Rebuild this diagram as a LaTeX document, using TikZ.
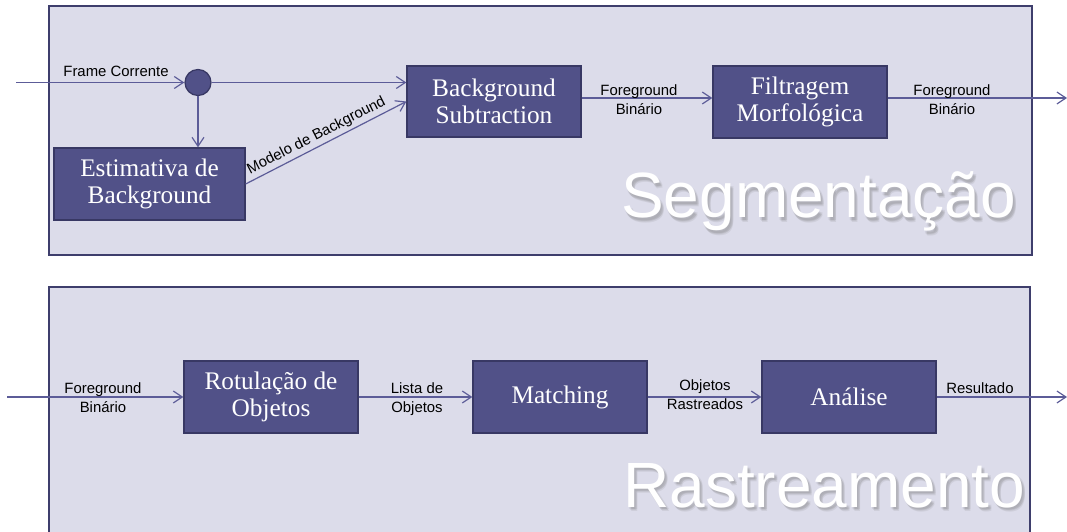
\documentclass[tikz,border=0pt]{standalone}
\usepackage{fontspec}
\setmainfont{Liberation Serif}
\setsansfont{Liberation Sans}
\usetikzlibrary{arrows.meta}

\definecolor{panelfill}{RGB}{220,220,234}
\definecolor{panelline}{RGB}{62,62,108}
\definecolor{boxfill}{RGB}{81,81,136}
\definecolor{boxline}{RGB}{56,56,100}
\definecolor{wire}{RGB}{92,92,152}

\tikzset{
  panel/.style={fill=panelfill, draw=panelline, line width=1pt},
  stagebox/.style={rectangle, fill=boxfill, draw=boxline, line width=0.9pt,
    minimum height=1.8cm, inner sep=0pt, align=center, text=white,
    font=\fontsize{18}{19.6}\selectfont},
  junction/.style={circle, fill=boxfill, draw=boxline, line width=0.9pt,
    minimum size=0.65cm, inner sep=0pt},
  flow/.style={draw=wire, line width=0.85pt, -{Straight Barb[length=6.4pt,width=8.5pt]}},
  tag/.style={inner sep=0pt, align=center, text=black,
    font=\sffamily\fontsize{10.6}{13.5}\selectfont},
  bigtitle/.style={inner sep=0pt, anchor=base west,
    font=\sffamily\fontsize{45.5}{50}\selectfont},
}

% white title with a soft drop shadow
\newcommand{\shadowtitle}[3]{%
  \foreach \dx/\dy in {1/2,2/3,3/2,3/4}
    \node[bigtitle, text=black!55, opacity=0.13] at (#1+\dx,#2+\dy) {#3};
  \node[bigtitle, text=white] at (#1,#2) {#3};
}

\begin{document}
\begin{tikzpicture}[x=0.025cm, y=-0.025cm]
  \useasboundingbox (0,0) rectangle (1067,532);

  % panels
  \draw[panel] (49,6) rectangle (1032,255);
  \draw[panel] (49,287) rectangle (1030,560);

  % panel titles
  \shadowtitle{621}{218}{Segmentação}
  \shadowtitle{623}{507}{Rastreamento}

  % ---- segmentation stage ----
  \coordinate (inA) at (16,82.5);
  \node[junction] (j) at (198,82.5) {};
  \node[stagebox, minimum width=4.775cm] (est) at (149.5,184) {Estimativa de\\Background};
  \node[stagebox, minimum width=4.35cm, minimum height=1.775cm] (bs) at (494,101.5) {Background\\Subtraction};
  \node[stagebox, minimum width=4.35cm] (filt) at (800,102) {Filtragem\\Morfológica};
  \coordinate (outA) at (1067,98);

  \draw[flow] (inA) -- (j.west);
  \node[tag, anchor=base] (lfc) at (116,77) {Frame Corrente};
  \draw[flow] (j.east) -- (bs.west |- j.east);
  \draw[flow] (j.south) -- (est.north -| j.south);
  \draw[flow] (est.east) -- node[tag, sloped, pos=0.47, above=2pt] (lmb) {Modelo de Background} (bs.west);
  \draw[flow] (bs.east |- outA) -- (filt.west |- outA);
  \node[tag] (lfb1) at (639,99.5) {Foreground\\Binário};
  \draw[flow] (filt.east |- outA) -- (outA);
  \node[tag] (lfb2) at (952,99.5) {Foreground\\Binário};

  % ---- tracking stage ----
  \coordinate (inB) at (7,397);
  \node[stagebox, minimum width=4.35cm] (rot) at (271,397) {Rotulação de\\Objetos};
  \node[stagebox, minimum width=4.35cm] (match) at (560,397) {Matching};
  \node[stagebox, minimum width=4.35cm] (anal) at (849,397) {Análise};
  \coordinate (outB) at (1067,397);

  \draw[flow] (inB) -- (rot.west);
  \node[tag] (lfb3) at (103,397.5) {Foreground\\Binário};
  \draw[flow] (rot.east) -- (match.west);
  \node[tag] (llo) at (417,399) {Lista de\\Objetos};
  \draw[flow] (match.east) -- (anal.west);
  \node[tag] (lor) at (705,394.5) {Objetos\\Rastreados};
  \draw[flow] (anal.east) -- (outB);
  \node[tag, anchor=base] (lres) at (980,393) {Resultado};
\end{tikzpicture}
\end{document}
